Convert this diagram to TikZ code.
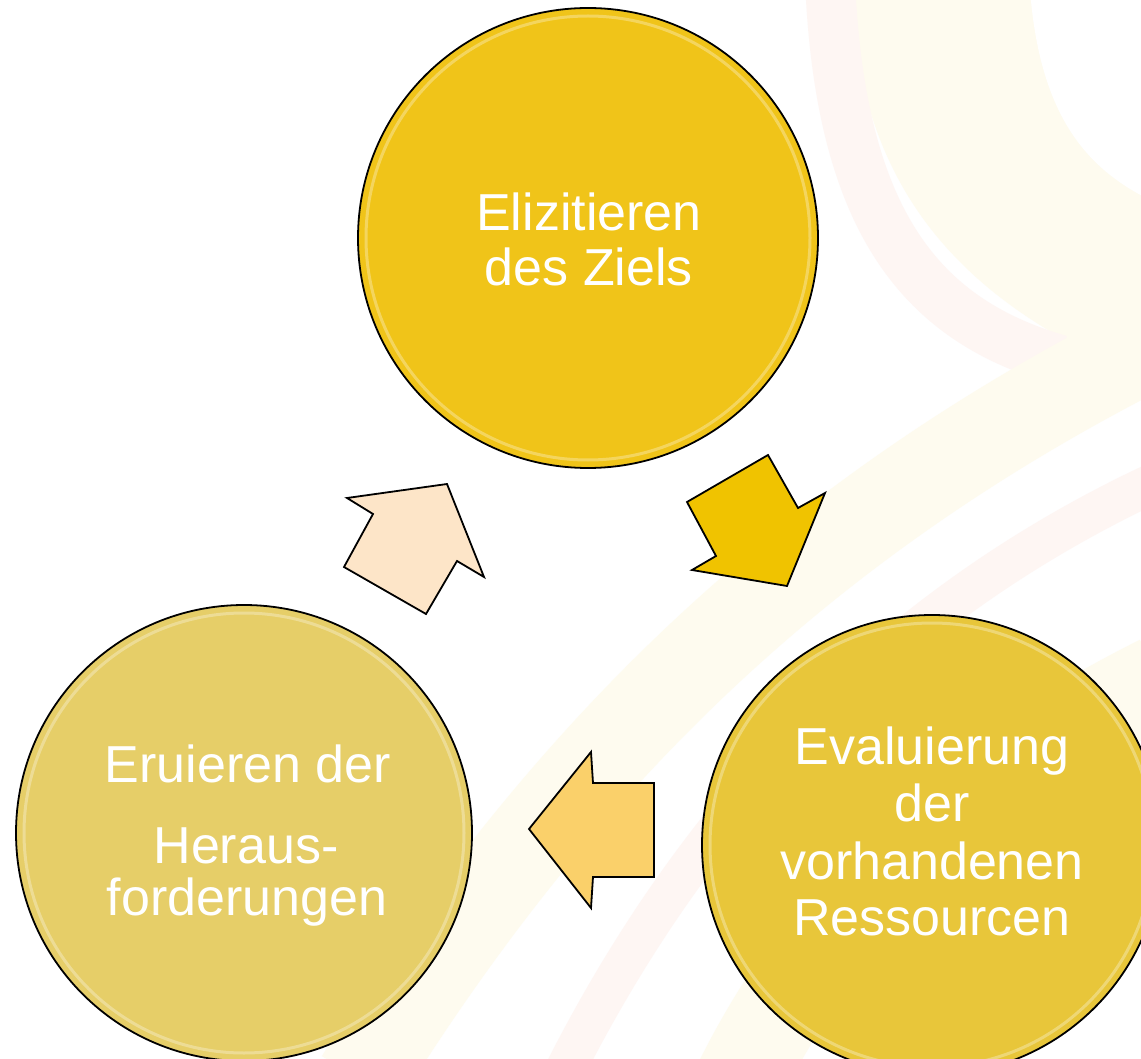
\documentclass[tikz,border=0pt]{standalone}
\usepackage{fontspec}
\setmainfont{Liberation Sans}
\definecolor{topfill}{HTML}{F0C419}
\definecolor{rightfill}{HTML}{E8C63A}
\definecolor{leftfill}{HTML}{E6CE68}
\definecolor{peach}{HTML}{FDE5C8}
\definecolor{goldarrow}{HTML}{F0C300}
\definecolor{orangearrow}{HTML}{FAD06A}
\definecolor{creamband}{HTML}{FEFBEF}
\definecolor{pinkband}{HTML}{FEF6F3}
\begin{document}
\begin{tikzpicture}[x=1pt,y=-1pt,
  bigcircle/.style={circle, draw=black, line width=1.8pt, minimum size=#1, inner sep=0pt},
  ring/.style={draw=white, line width=3pt, opacity=0.3},
  lbl/.style={text=white, font=\fontsize{52}{56}\selectfont, anchor=base, inner sep=0pt},
  blockarrow/.style={draw=black, line width=1.8pt, line join=miter},
  band/.style={line width=#1, line cap=butt}]
\useasboundingbox (0,0) rectangle (1141,1059);
\clip (0,0) rectangle (1141,1059);
\fill[white] (0,0) rectangle (1141,1059);
% faint background swooshes
\fill[creamband] (850,-10) .. controls (860,180) and (950,300) .. (1150,380) -- (1150,-10) -- cycle;
\draw[band=50pt, pinkband] (830,-20) .. controls (840,220) and (920,320) .. (1060,360);
\fill[white] (1030,-10) .. controls (1040,120) and (1090,170) .. (1150,200) -- (1150,-10) -- cycle;
\draw[band=90pt, creamband] (360,1080) .. controls (560,760) and (800,520) .. (1160,340);
\draw[band=40pt, pinkband] (560,1080) .. controls (700,800) and (900,600) .. (1160,480);
\draw[band=90pt, creamband] (740,1080) .. controls (840,880) and (1000,760) .. (1160,680);
% circles
\node[bigcircle=460pt, fill=topfill] (goal) at (588,238) {};
\node[bigcircle=460pt, fill=rightfill] (res) at (932,845) {};
\node[bigcircle=456pt, fill=leftfill] (chal) at (244,833) {};
\draw[ring] (goal.center) circle (222pt);
\draw[ring] (res.center) circle (222pt);
\draw[ring] (chal.center) circle (220pt);
% block arrows
\draw[blockarrow, fill=peach] (344,567) -- (373,514) -- (347,498) -- (447,484) -- (484,577) -- (457,561) -- (426,614) -- cycle;
\draw[blockarrow, fill=goldarrow] (687,502) -- (768,455) -- (798,508) -- (825,493) -- (787,586) -- (692,570) -- (716,556) -- cycle;
\draw[blockarrow, fill=orangearrow] (529,829) -- (591,752) -- (593,783) -- (654,783) -- (654,877) -- (593,877) -- (591,908) -- cycle;
% labels
\node[lbl] (g1) at (589,231) {Elizitieren};
\node[lbl] (g2) at (589,286) {des Ziels};
\node[lbl] (r1) at (932,764) {Evaluierung};
\node[lbl] (r2) at (932,821) {der};
\node[lbl] (r3) at (932,879) {vorhandenen};
\node[lbl] (r4) at (932,935) {Ressourcen};
\node[lbl] (c1) at (248,782) {Eruieren der};
\node[lbl] (c2) at (246,863) {Heraus-};
\node[lbl] (c3) at (247,915) {forderungen};
\end{tikzpicture}
\end{document}
